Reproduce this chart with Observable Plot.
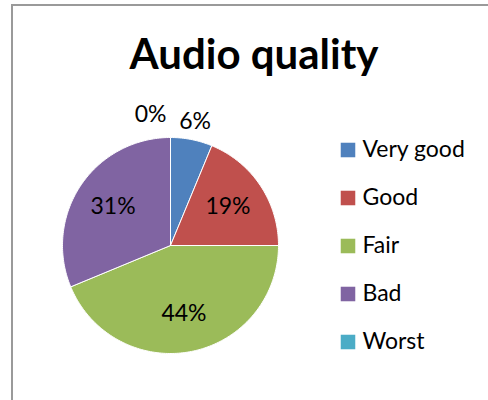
<!DOCTYPE html>
<html><head><meta charset="utf-8">
<script src="https://cdn.jsdelivr.net/npm/d3@7"></script>
<script src="https://cdn.jsdelivr.net/npm/@observablehq/plot@0.6"></script>
<style>
html,body{margin:0;padding:0;background:#fff;}
#chart{position:relative;width:488px;height:400px;overflow:hidden;}
#border{position:absolute;left:11px;top:4px;width:520px;height:440px;border:2px solid #9a9a9a;box-sizing:border-box;}
#plot{position:absolute;left:0;top:0;}
</style></head><body>
<div id="chart"><div id="border"></div><div id="plot"></div></div>
<script>
const title = "Audio quality";
const categories = ["Very good", "Good", "Fair", "Bad", "Worst"];
const counts = [1, 3, 7, 5, 0];
const colors = ["#4f81bd", "#c0504d", "#9bbb59", "#8064a2", "#4bacc6"];

const FONT = "Lato, 'Open Sans', sans-serif";
const cx = 170, cy = 245, R = 108;
const total = d3.sum(counts);
const data = categories.map((c, i) => ({cat: c, value: counts[i]}));
const arcs = d3.pie().sort(null).value(d => d.value)(data);

const slicePts = [];
arcs.forEach(a => {
  const span = a.endAngle - a.startAngle;
  if (span <= 0) return;
  const n = Math.max(2, Math.ceil(span / (Math.PI / 180)));
  slicePts.push({cat: a.data.cat, x: 0, y: 0});
  for (let k = 0; k <= n; k++) {
    const t = a.startAngle + span * k / n;
    slicePts.push({cat: a.data.cat, x: Math.sin(t), y: Math.cos(t)});
  }
  slicePts.push({cat: a.data.cat, x: 0, y: 0});
});

const labels = arcs.map(a => {
  const frac = a.data.value / total;
  const mid = (a.startAngle + a.endAngle) / 2;
  const outside = frac < 0.1;
  const r = outside ? 1.17 : 0.64;
  return {
    text: Math.round(frac * 100) + "%",
    x: Math.sin(mid) * r,
    y: Math.cos(mid) * r,
    zero: frac === 0
  };
});

const legendMarks = categories.flatMap((c, i) => [
  Plot.dot([c], {frameAnchor: "top-left", dx: 347.5, dy: 149.5 + i * 48, symbol: "square", r: 8.2, fill: d => d, stroke: null}),
  Plot.text([c], {frameAnchor: "top-left", lineAnchor: "middle", dx: 362, dy: 149 + i * 48, text: d => d, textAnchor: "start", fontSize: 23, fill: "black", fontFamily: FONT})
]);

const chart = Plot.plot({
  width: 488, height: 400, margin: 0,
  style: {background: "transparent", fontFamily: FONT},
  x: {domain: [-1, 1], range: [cx - R, cx + R], axis: null},
  y: {domain: [-1, 1], range: [cy + R, cy - R], axis: null},
  color: {domain: categories, range: colors},
  marks: [
    Plot.line(slicePts, {x: "x", y: "y", z: "cat", fill: "cat", stroke: "white", strokeWidth: 1, curve: "linear"}),
    Plot.text(labels.filter(d => !d.zero), {x: "x", y: "y", text: "text", textAnchor: "middle", fontSize: 23, fill: "black"}),
    Plot.text(labels.filter(d => d.zero), {x: "x", y: "y", text: "text", textAnchor: "end", dx: -4, dy: -5, fontSize: 23, fill: "black"}),
    Plot.text([title], {frameAnchor: "top", dx: 9.5, dy: 68, lineAnchor: "bottom", fontSize: 42, fontWeight: "bold", fill: "black", fontFamily: FONT}),
    ...legendMarks
  ]
});
document.getElementById("plot").appendChild(chart);
</script>
</body></html>
